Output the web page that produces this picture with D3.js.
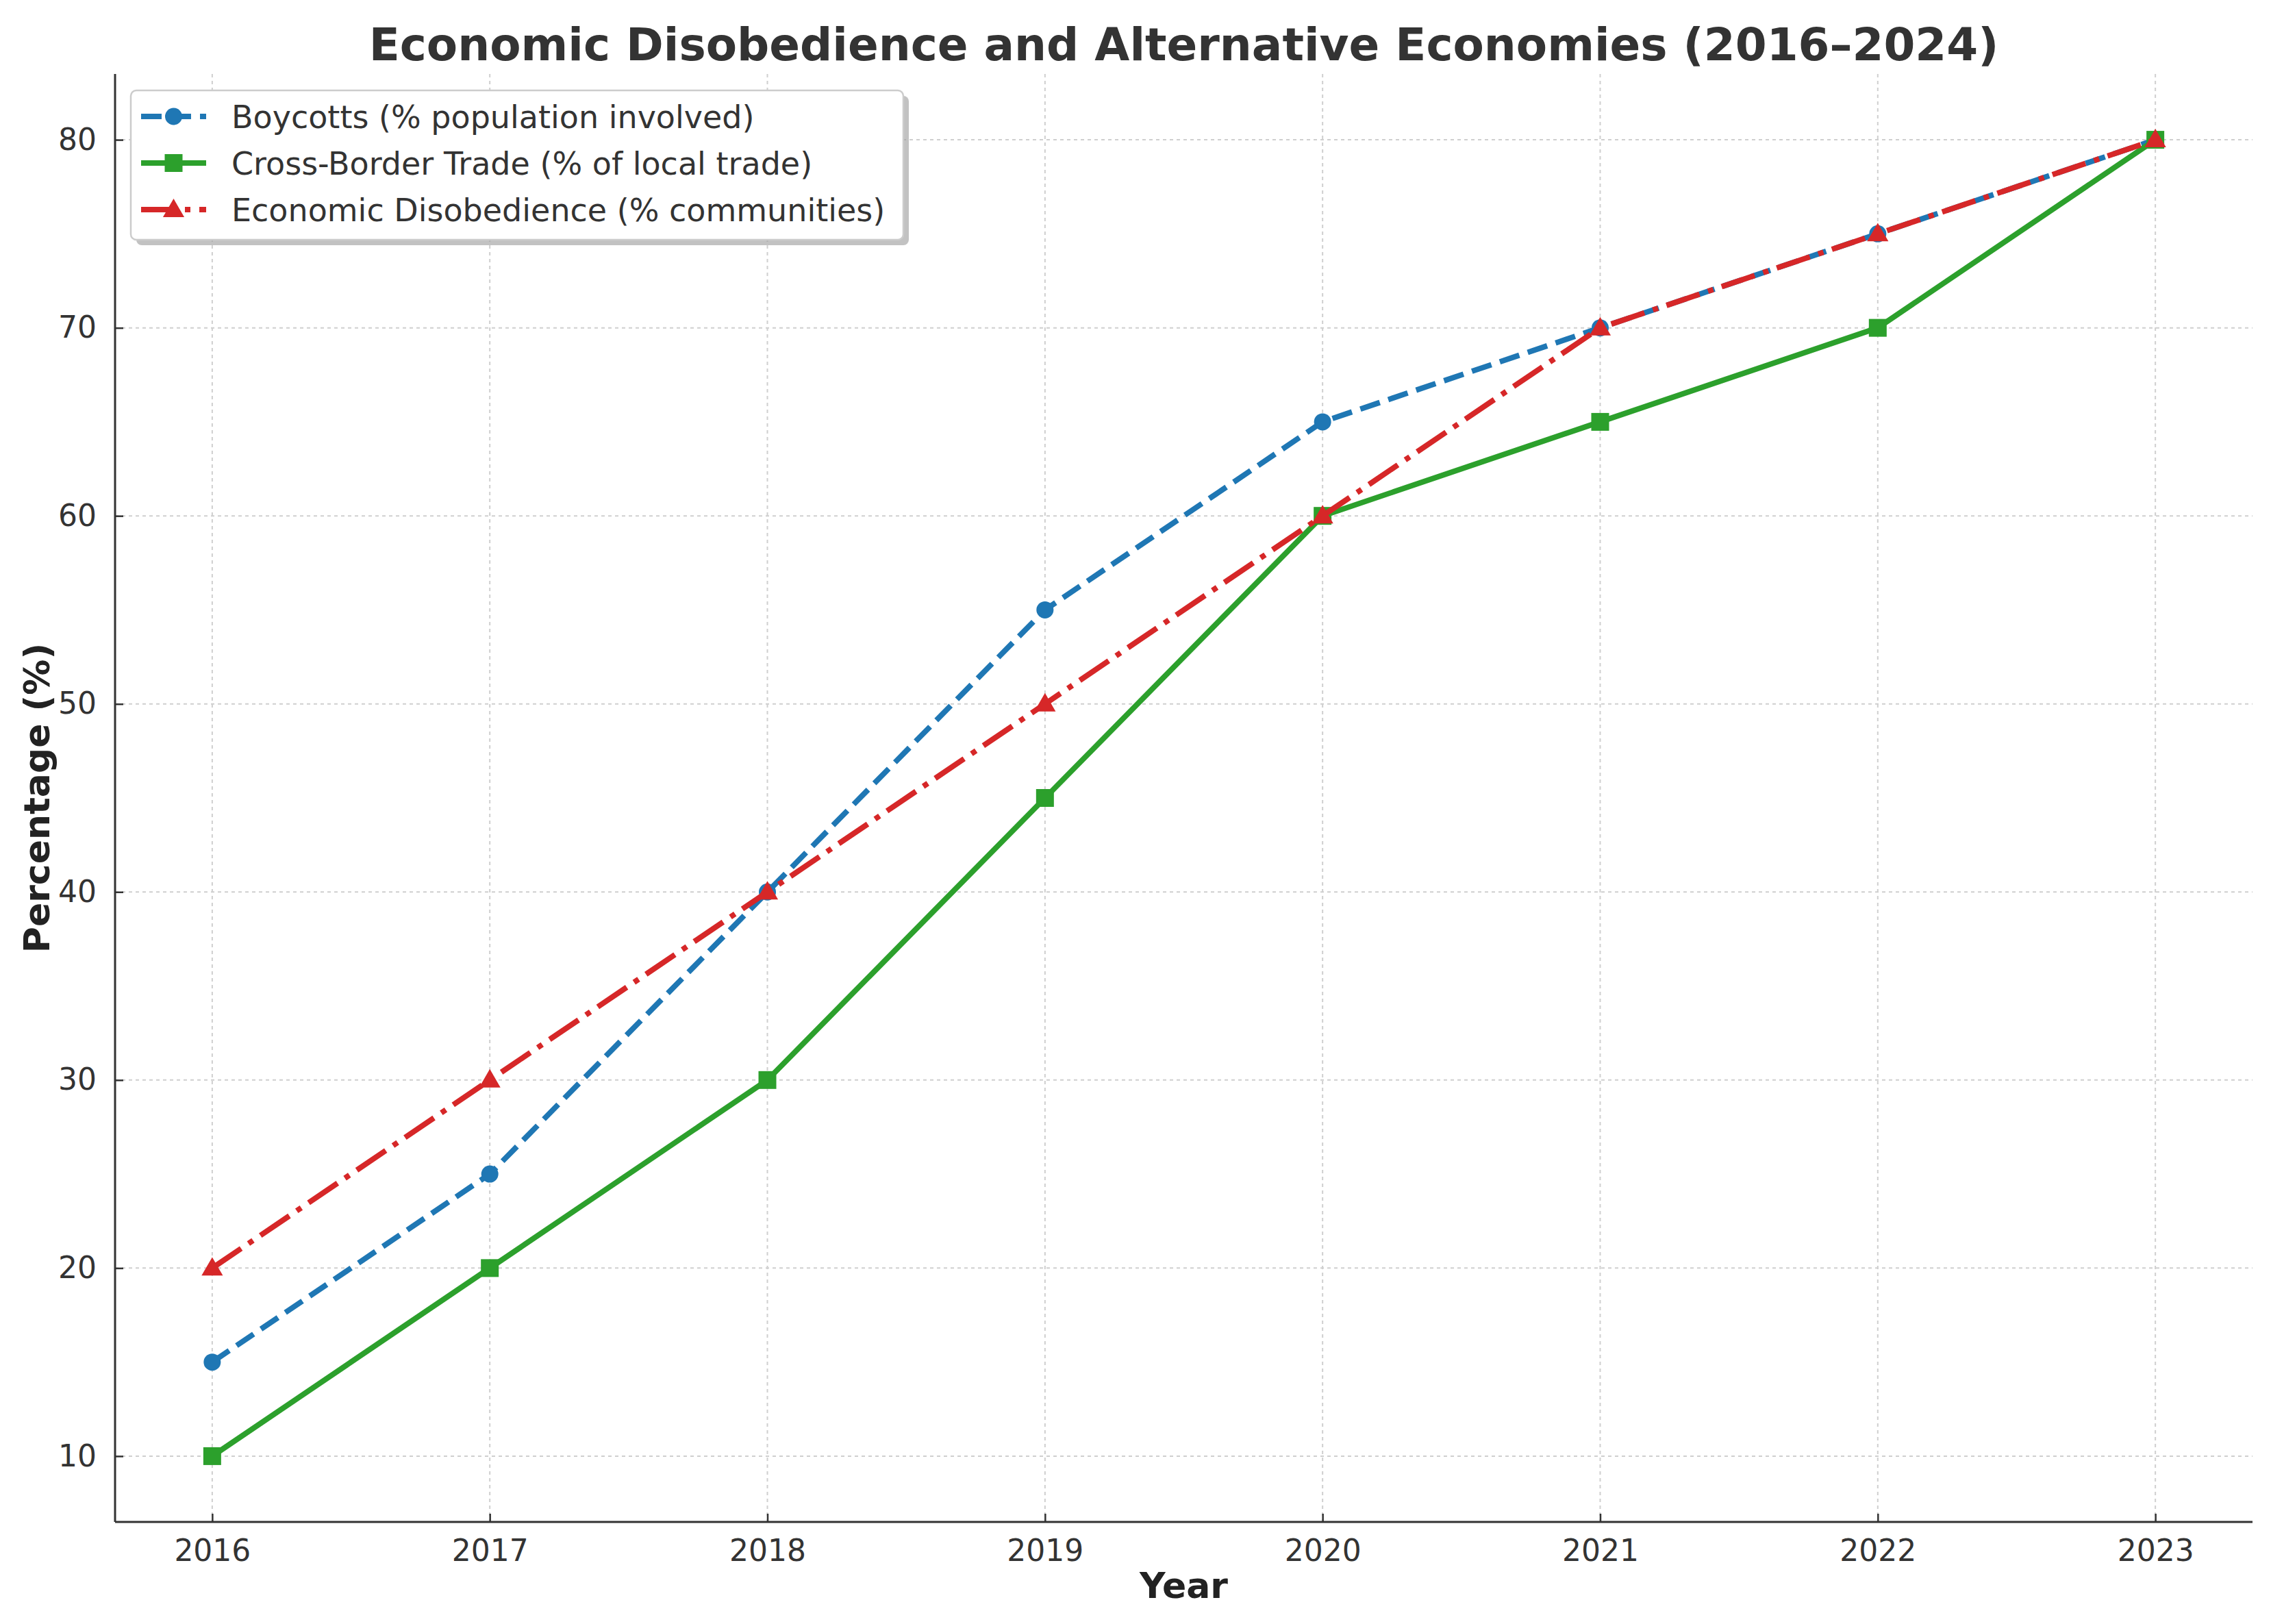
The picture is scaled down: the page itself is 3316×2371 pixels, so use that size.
<!DOCTYPE html>
<html>
<head>
<meta charset="utf-8">
<script src="https://cdn.jsdelivr.net/npm/d3@7"></script>
<style>
  html, body { margin: 0; padding: 0; background: #ffffff; }
  svg { display: block; font-family: "DejaVu Sans", sans-serif; }
</style>
</head>
<body>
<svg id="chart" width="3316" height="2371"></svg>
<script>
// ---- Data ----
const years = [2016, 2017, 2018, 2019, 2020, 2021, 2022, 2023];
const boycotts = [15, 25, 40, 55, 65, 70, 75, 80];
const crossBorder = [10, 20, 30, 45, 60, 65, 70, 80];
const disobedience = [20, 30, 40, 50, 60, 70, 75, 80];
const yTicks = [10, 20, 30, 40, 50, 60, 70, 80];
const seriesNames = [
  "Boycotts (% population involved)",
  "Cross-Border Trade (% of local trade)",
  "Economic Disobedience (% communities)"
];
const titleText = "Economic Disobedience and Alternative Economies (2016\u20132024)";
const xLabel = "Year";
const yLabel = "Percentage (%)";

// ---- Layout ----
const W = 3316, H = 2371;
const m = { left: 168, right: 27, top: 108, bottom: 149 };
const iw = W - m.left - m.right, ih = H - m.top - m.bottom;

const svg = d3.select("#chart");
svg.append("rect").attr("width", W).attr("height", H).attr("fill", "#fff");

const x = d3.scaleLinear().domain([2015.65, 2023.35]).range([0, iw]);
const y = d3.scaleLinear().domain([6.5, 83.5]).range([ih, 0]);

const g = svg.append("g").attr("transform", `translate(${m.left},${m.top})`);

// grid
const grid = g.append("g");
grid.selectAll("line.v").data(years).enter().append("line")
  .attr("x1", d => x(d)).attr("x2", d => x(d)).attr("y1", 0).attr("y2", ih)
  .attr("stroke", "#cfcfcf").attr("stroke-width", 2).attr("stroke-dasharray", "5,5");
grid.selectAll("line.h").data(yTicks).enter().append("line")
  .attr("y1", d => y(d)).attr("y2", d => y(d)).attr("x1", 0).attr("x2", iw)
  .attr("stroke", "#cfcfcf").attr("stroke-width", 2).attr("stroke-dasharray", "5,5");

// axes
const xAxis = g.append("g").attr("transform", `translate(0,${ih})`)
  .call(d3.axisBottom(x).tickValues(years).tickFormat(d3.format("d")).tickSizeInner(-12).tickSizeOuter(0).tickPadding(26));
const yAxis = g.append("g")
  .call(d3.axisLeft(y).tickValues(yTicks).tickSizeInner(-12).tickSizeOuter(0).tickPadding(27));
[xAxis, yAxis].forEach(a => {
  a.select(".domain").attr("stroke", "#333").attr("stroke-width", 3);
  a.selectAll(".tick line").attr("stroke", "#333").attr("stroke-width", 2.5);
  a.selectAll(".tick text").attr("fill", "#333").attr("font-size", 44)
    .attr("font-family", "DejaVu Sans");
});
xAxis.select(".domain").attr("d", `M0,0H${iw}`);
yAxis.select(".domain").attr("d", `M0,${ih}V0`);
xAxis.selectAll(".tick text").attr("dy", "0.71em");

// lines
const series = [
  { name: seriesNames[0], values: boycotts, color: "#1f77b4", dash: "30,13", marker: "circle" },
  { name: seriesNames[1], values: crossBorder, color: "#2ca02c", dash: null, marker: "square" },
  { name: seriesNames[2], values: disobedience, color: "#d62728", dash: "51,13,8,13", marker: "triangle" }
];
const lineGen = d3.line().x(d => x(d[0])).y(d => y(d[1]));

function drawMarker(sel, type, color) {
  if (type === "circle") {
    sel.append("circle").attr("r", 12.5).attr("fill", color);
  } else if (type === "square") {
    sel.append("rect").attr("x", -13).attr("y", -13).attr("width", 26).attr("height", 26).attr("fill", color);
  } else {
    sel.append("path").attr("d", d3.symbol().type(d3.symbolTriangle).size(420)()).attr("fill", color)
      .attr("transform", "translate(0,2)");
  }
}

series.forEach(s => {
  const pts = years.map((yr, i) => [yr, s.values[i]]);
  g.append("path").datum(pts).attr("d", lineGen)
    .attr("fill", "none").attr("stroke", s.color).attr("stroke-width", 8)
    .attr("stroke-dasharray", s.dash).attr("stroke-linejoin", "round");
  pts.forEach(p => {
    const mg = g.append("g").attr("transform", `translate(${x(p[0])},${y(p[1])})`);
    drawMarker(mg, s.marker, s.color);
  });
});

// legend
const lg = svg.append("g");
const lx = 191, ly = 132, lw = 1128, lh = 218;
lg.append("rect").attr("x", lx + 8).attr("y", ly + 8).attr("width", lw).attr("height", lh)
  .attr("rx", 8).attr("fill", "#999").attr("opacity", 0.6);
lg.append("rect").attr("x", lx).attr("y", ly).attr("width", lw).attr("height", lh)
  .attr("rx", 8).attr("fill", "#fff").attr("stroke", "#cccccc").attr("stroke-width", 2.5);
const rowY = [170, 238, 306];
series.forEach((s, i) => {
  const yy = rowY[i];
  lg.append("line").attr("x1", 206).attr("x2", 301).attr("y1", yy).attr("y2", yy)
    .attr("stroke", s.color).attr("stroke-width", 8).attr("stroke-dasharray", s.dash);
  const mg = lg.append("g").attr("transform", `translate(253.5,${yy})`);
  drawMarker(mg, s.marker, s.color);
  lg.append("text").attr("x", 338).attr("y", yy).attr("dy", "0.36em")
    .attr("font-size", 46).attr("fill", "#333").text(s.name);
});

// title and axis labels
svg.append("text").attr("x", m.left + iw / 2).attr("y", 88).attr("text-anchor", "middle")
  .attr("font-size", 66).attr("font-weight", "bold").attr("fill", "#333").text(titleText);
svg.append("text").attr("x", m.left + iw / 2).attr("y", 2333).attr("text-anchor", "middle")
  .attr("font-size", 52).attr("font-weight", "bold").attr("fill", "#222").text(xLabel);
svg.append("text").attr("transform", `translate(72,${m.top + ih / 2}) rotate(-90)`)
  .attr("text-anchor", "middle").attr("font-size", 52).attr("font-weight", "bold")
  .attr("fill", "#222").text(yLabel);
</script>
</body>
</html>
